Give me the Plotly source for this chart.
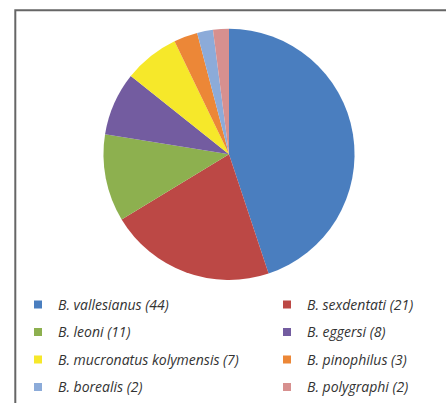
import plotly.graph_objects as go

# ---- data ----
species = ["B. vallesianus", "B. sexdentati", "B. leoni", "B. eggersi",
           "B. mucronatus kolymensis", "B. pinophilus", "B. borealis", "B. polygraphi"]
counts = [44, 21, 11, 8, 7, 3, 2, 2]
colors = ["#4A7EBF", "#BC4845", "#8DB04F", "#735CA0",
          "#F6E82A", "#EC8737", "#8CABD9", "#D7908F"]

labels = [f"{s} ({c})" for s, c in zip(species, counts)]

W, H = 446, 403

fig = go.Figure()

# the pie itself (legend entries are drawn by the helper traces below)
fig.add_trace(go.Pie(
    labels=labels, values=counts, sort=False, direction="clockwise", rotation=0,
    marker=dict(colors=colors, line=dict(width=0)),
    textinfo="none", showlegend=False, hoverinfo="label+value",
    domain=dict(x=[102.5 / W, 355.5 / W], y=[1 - 282 / H, 1 - 29 / H]),
))

# legend entries in two columns (left: even index, right: odd index)
for i, (lab, col) in enumerate(zip(labels, colors)):
    fig.add_trace(go.Scatter(
        x=[None], y=[None], mode="markers", name=lab,
        marker=dict(symbol="square", size=8, color=col),
        legend="legend" if i % 2 == 0 else "legend2",
        legendgroup=f"g{i}", showlegend=True, hoverinfo="skip",
    ))

legend_common = dict(
    orientation="v", yanchor="top", xanchor="left",
    bgcolor="rgba(0,0,0,0)", borderwidth=0,
    font=dict(family="Open Sans", size=14, color="#333333", style="italic", weight=500),
    tracegroupgap=6.3,
)

fig.update_layout(
    width=W, height=H,
    margin=dict(l=0, r=0, t=0, b=0),
    paper_bgcolor="white", plot_bgcolor="white",
    xaxis=dict(visible=False), yaxis=dict(visible=False),
    legend=dict(x=(58 - 40) / W, y=1 - 291 / H, **legend_common),
    legend2=dict(x=(307 - 40) / W, y=1 - 291 / H, **legend_common),
    shapes=[dict(type="rect", xref="paper", yref="paper",
                 x0=15.3 / W, x1=1.2, y0=-0.2, y1=1 - 10.3 / H,
                 line=dict(color="#666666", width=2), fillcolor="rgba(0,0,0,0)",
                 layer="below")],
)

fig.write_html("out.html")
